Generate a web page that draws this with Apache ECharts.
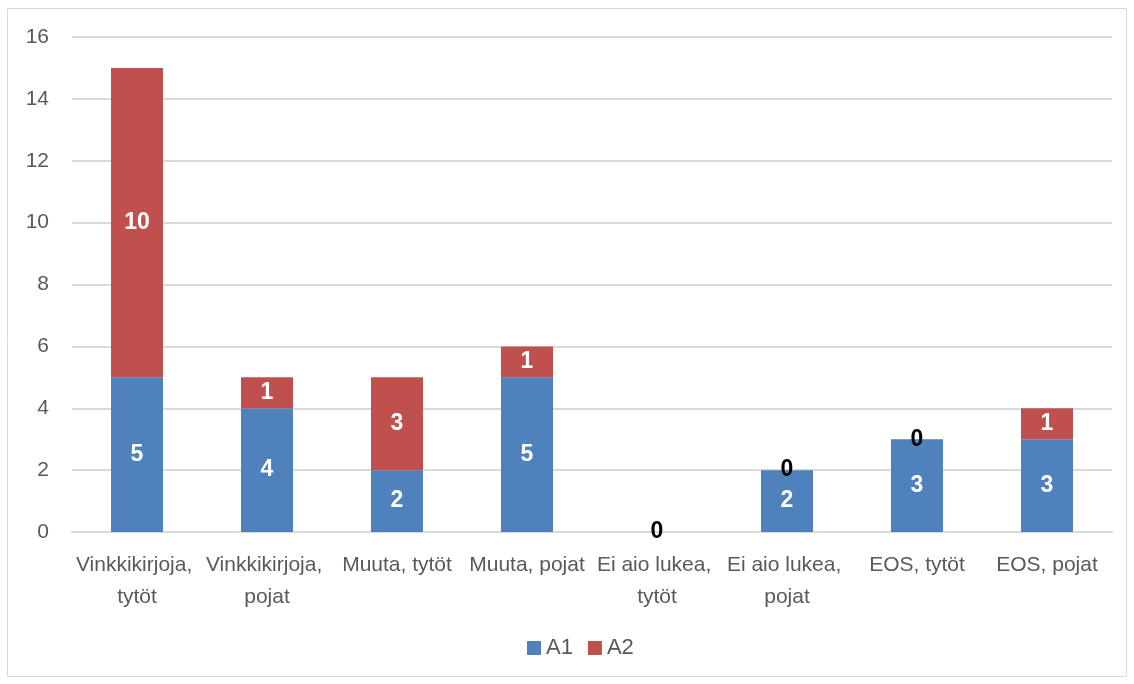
<!DOCTYPE html>
<html>
<head>
<meta charset="utf-8">
<script src="https://cdn.jsdelivr.net/npm/echarts@6/dist/echarts.min.js"></script>
<style>
    html, body { margin: 0; padding: 0; background: #fff; }
    #chart { width: 1134px; height: 684px; }
</style>
</head>
<body>
<div id="chart"></div>
<script>
var categories = ["Vinkkikirjoja, tytöt", "Vinkkikirjoja, pojat", "Muuta, tytöt", "Muuta, pojat",
    "Ei aio lukea, tytöt", "Ei aio lukea, pojat", "EOS, tytöt", "EOS, pojat"];
var a1 = [5, 4, 2, 5, 0, 2, 3, 3];
var a2 = [10, 1, 3, 1, 0, 0, 0, 1];
var yTicks = { min: 0, max: 16, interval: 2 };

function toItems(values, other) {
    // zero values get a black label sitting on top of the stack;
    // when both series are zero only one label is drawn
    return values.map(function (v, i) {
        return {
            value: v,
            label: {
                show: !(other && v === 0 && other[i] === 0),
                color: v === 0 ? '#000' : '#fff'
            }
        };
    });
}

var labelStyle = {
    show: true,
    position: 'inside',
    fontFamily: '"Liberation Sans Narrow", "Liberation Sans", Arial, sans-serif',
    fontWeight: 'bold',
    fontSize: 23,
    color: '#fff'
};

var chart = echarts.init(document.getElementById('chart'));
chart.setOption({
    animation: false,
    textStyle: { fontFamily: '"Liberation Sans", Arial, sans-serif' },
    graphic: [{
        type: 'rect',
        shape: { x: 7.5, y: 8.5, width: 1119, height: 668 },
        style: { fill: 'none', stroke: '#d9d9d9', lineWidth: 1 },
        silent: true
    }],
    grid: { left: 72, right: 22, top: 37, bottom: 152 },
    legend: {
        bottom: 20,
        left: 522,
        itemWidth: 14,
        itemHeight: 14,
        itemGap: 15,
        itemStyle: { borderWidth: 0 },
        icon: 'rect',
        textStyle: { fontSize: 22, color: '#595959' },
        data: ['A1', 'A2']
    },
    xAxis: {
        type: 'category',
        data: categories,
        axisLine: { lineStyle: { color: '#d9d9d9', width: 2 } },
        axisTick: { show: false },
        axisLabel: {
            interval: 0,
            color: '#595959',
            fontSize: 21,
            lineHeight: 32,
            margin: 17,
            width: 130,
            overflow: 'break'
        }
    },
    yAxis: {
        type: 'value',
        min: yTicks.min,
        max: yTicks.max,
        interval: yTicks.interval,
        axisLine: { show: false },
        axisTick: { show: false },
        splitLine: { lineStyle: { color: '#d9d9d9', width: 2 } },
        axisLabel: { color: '#595959', fontSize: 21, margin: 23 }
    },
    series: [{
        name: 'A1',
        type: 'bar',
        stack: 'total',
        barWidth: 52,
        itemStyle: { color: '#4f81bd' },
        label: labelStyle,
        data: toItems(a1, null)
    }, {
        name: 'A2',
        type: 'bar',
        stack: 'total',
        barWidth: 52,
        itemStyle: { color: '#c0504d' },
        label: labelStyle,
        data: toItems(a2, a1)
    }]
});
</script>
</body>
</html>
